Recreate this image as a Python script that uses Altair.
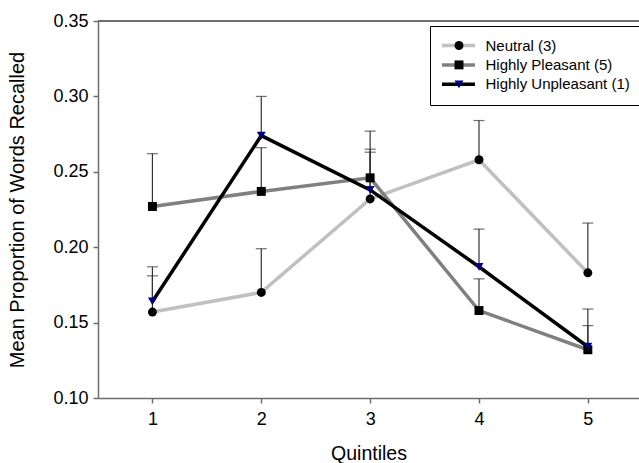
import altair as alt
import pandas as pd

quintiles = [1, 2, 3, 4, 5]
series_names = ["Neutral (3)", "Highly Pleasant (5)", "Highly Unpleasant (1)"]
marker_keys = ["m1", "m2", "m3"]
neutral = [0.157, 0.170, 0.232, 0.258, 0.183]
neutral_upper = [0.181, 0.199, 0.263, 0.284, 0.216]
pleasant = [0.227, 0.237, 0.246, 0.158, 0.132]
pleasant_upper = [0.262, 0.266, 0.277, 0.179, 0.148]
unpleasant = [0.164, 0.274, 0.238, 0.187, 0.134]
unpleasant_upper = [0.187, 0.300, 0.265, 0.212, 0.159]

line_colors = ["#c0c0c0", "#808080", "#000000"]
marker_fills = ["#000000", "#000000", "#000080"]
marker_shapes = ["circle", "square", "triangle-down"]
y_ticks = [0.10, 0.15, 0.20, 0.25, 0.30, 0.35]

rows = []
for i, (name, vals, ups) in enumerate(zip(series_names,
                           [neutral, pleasant, unpleasant],
                           [neutral_upper, pleasant_upper, unpleasant_upper])):
    for q, v, u in zip(quintiles, vals, ups):
        rows.append({"q": q, "series": name, "marker": marker_keys[i],
                     "mean": v, "upper": u, "order": i})
df = pd.DataFrame(rows)

FONT = "Liberation Sans"
W, H = 541, 377
AXIS_COLOR = "#6e6e6e"

xscale = alt.Scale(domain=[0.5, 5.47], nice=False, zero=False)
yscale = alt.Scale(domain=[0.10, 0.35], nice=False, zero=False)

x_enc = alt.X("q:Q", scale=xscale,
              axis=alt.Axis(values=quintiles, format="d", title="Quintiles",
                            grid=False, tickSize=5, labelPadding=7,
                            labelFontSize=18, titleFontSize=19.5, titlePadding=16,
                            domainColor=AXIS_COLOR, tickColor=AXIS_COLOR,
                            domainWidth=1.5, tickWidth=1.5,
                            labelColor="black", titleColor="black",
                            labelFont=FONT, titleFont=FONT,
                            titleFontWeight="normal"))
y_enc = alt.Y("mean:Q", scale=yscale,
              axis=alt.Axis(values=y_ticks, format=".2f",
                            title="Mean Proportion of Words Recalled",
                            grid=False, tickSize=5, labelPadding=5,
                            labelFontSize=18, titleFontSize=20, titlePadding=25,
                            domainColor=AXIS_COLOR, tickColor=AXIS_COLOR,
                            domainWidth=1.5, tickWidth=1.5,
                            labelColor="black", titleColor="black",
                            labelFont=FONT, titleFont=FONT,
                            titleFontWeight="normal"))

base = alt.Chart(df)

top_line = base.mark_rule(color=AXIS_COLOR, strokeWidth=1.5).encode(
    y=alt.datum(0.35), x=alt.value(0), x2=alt.value(W))

LEG_PAD = 12
LEG_ROWPAD = 3.4
LEG_FONT = 15
legA = alt.Legend(orient="none", legendX=332, legendY=5,
                  title=None, symbolType="M-3.3,0H3.3",
                  symbolStrokeWidth=3.5, symbolSize=100,
                  labelFontSize=LEG_FONT, labelFont=FONT,
                  labelColor="black", labelOffset=19.5,
                  padding=LEG_PAD, symbolOffset=9, rowPadding=LEG_ROWPAD,
                  strokeColor="black", labelLimit=300)
lines = base.mark_line(strokeWidth=3.5).encode(
    x=x_enc, y=y_enc,
    stroke=alt.Stroke("series:N",
                      scale=alt.Scale(domain=series_names, range=line_colors),
                      legend=legA),
    order=alt.Order("q:Q"),
    detail="series:N")

err_rules = base.mark_rule(color="#333333", strokeWidth=1.2).encode(
    x="q:Q", y="mean:Q", y2="upper:Q")

err_caps = base.mark_tick(color="#333333", thickness=1.2, size=11,
                          orient="horizontal").encode(
    x="q:Q", y="upper:Q")

legB = alt.Legend(orient="none", legendX=332, legendY=5, title=None,
                  labelFontSize=LEG_FONT, labelFont=FONT, labelExpr="''",
                  labelOffset=19.5, padding=LEG_PAD, symbolOffset=9.5,
                  rowPadding=LEG_ROWPAD, symbolSize=80,
                  symbolStrokeWidth=0, labelLimit=300)
points = base.mark_point(filled=True, size=80, opacity=1, strokeWidth=0).encode(
    x="q:Q", y="mean:Q",
    fill=alt.Fill("marker:N",
                  scale=alt.Scale(domain=marker_keys, range=marker_fills),
                  legend=legB),
    shape=alt.Shape("marker:N",
                    scale=alt.Scale(domain=marker_keys, range=marker_shapes),
                    legend=legB),
    order=alt.Order("order:Q"))

chart = alt.layer(top_line, lines, err_rules, err_caps, points).properties(
    width=W, height=H,
    padding={"left": 98, "top": 21, "right": 0, "bottom": 65},
    autosize=alt.AutoSizeParams(type="none"),
    background="white",
).configure_view(stroke=None)

chart.save("out.html", embed_options={"renderer": "svg", "actions": False})
